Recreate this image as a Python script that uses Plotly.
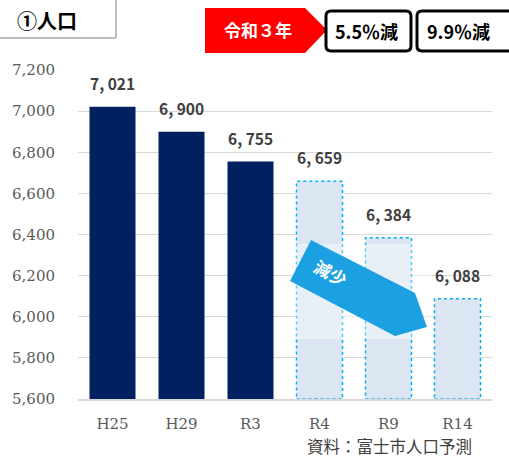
import plotly.graph_objects as go

categories = ["H25", "H29", "R3", "R4", "R9", "R14"]
population = [7021, 6900, 6755, 6659, 6384, 6088]
is_forecast = [False, False, False, True, True, True]
y_ticks = [5600, 5800, 6000, 6200, 6400, 6600, 6800, 7000, 7200]
y_range = [5600, 7200]
title_text = "①人口"
badge_text = "令和３年"
change_texts = ["5.5％減", "9.9％減"]
arrow_text = "減少"
source_text = "資料：富士市人口予測"

W, H = 509, 459
L, R, T, B = 78, 17, 70, 60
PW, PH = W - L - R, H - T - B


def px(x):
    return (x - L) / PW


def py(y):
    return (H - B - y) / PH


def poly_path(points):
    s = "M " + " L ".join(f"{px(x):.4f},{py(y):.4f}" for x, y in points) + " Z"
    return s


def rounded_rect(x0, y0, x1, y1, r):
    pts = [
        ("M", (x0 + r, y0)), ("L", (x1 - r, y0)), ("Q", (x1, y0), (x1, y0 + r)),
        ("L", (x1, y1 - r)), ("Q", (x1, y1), (x1 - r, y1)),
        ("L", (x0 + r, y1)), ("Q", (x0, y1), (x0, y1 - r)),
        ("L", (x0, y0 + r)), ("Q", (x0, y0), (x0 + r, y0)),
    ]
    out = []
    for item in pts:
        cmd = item[0]
        coords = " ".join(f"{px(x):.4f},{py(y):.4f}" for x, y in item[1:])
        out.append(f"{cmd} {coords}")
    return " ".join(out) + " Z"


navy = "#002060"
light = "#dce6f2"
cyan = "#00b0f0"

colors = [light if f else navy for f in is_forecast]

fig = go.Figure()
fig.add_trace(go.Bar(
    x=categories, y=population,
    marker=dict(color=colors, line=dict(width=0)),
    hoverinfo="x+y", showlegend=False,
))

shapes = []
half = (1 - 0.333) / 2
for i, (v, f) in enumerate(zip(population, is_forecast)):
    if f:
        shapes.append(dict(type="rect", xref="x", yref="y", x0=i - half, x1=i + half,
                           y0=y_range[0], y1=v, line=dict(color=cyan, width=1.5, dash="dot"),
                           layer="above"))

# glow behind arrow
shapes.append(dict(type="rect", xref="paper", yref="paper", x0=px(292), x1=px(432),
                   y0=py(339), y1=py(244), fillcolor="rgba(255,255,255,0.35)",
                   line=dict(width=0), layer="above"))
# arrow
shapes.append(dict(type="path", xref="paper", yref="paper",
                   path=poly_path([(311, 240), (415, 293), (427, 327), (395, 336), (290, 281)]),
                   fillcolor="#1ba1e2", line=dict(width=0), layer="above"))
# title box
shapes.append(dict(type="rect", xref="paper", yref="paper", x0=px(-2), x1=px(116),
                   y0=py(38), y1=py(-2), line=dict(color="#7f7f7f", width=1),
                   fillcolor="white", layer="above"))
# red badge
shapes.append(dict(type="path", xref="paper", yref="paper",
                   path=poly_path([(205, 8), (305, 8), (327, 30), (305, 53), (205, 53)]),
                   fillcolor="#ff0000", line=dict(width=0), layer="above"))
# change boxes
shapes.append(dict(type="path", xref="paper", yref="paper",
                   path=rounded_rect(326, 11, 411, 51, 5),
                   fillcolor="white", line=dict(color="black", width=3), layer="above"))
shapes.append(dict(type="path", xref="paper", yref="paper",
                   path=rounded_rect(417, 11, 520, 51, 5),
                   fillcolor="white", line=dict(color="black", width=3), layer="above"))

annotations = []
for c, v in zip(categories, population):
    annotations.append(dict(x=c, y=v, xref="x", yref="y", yanchor="bottom", xanchor="center",
                            yshift=11,
                            text=f"{v // 1000}, {v % 1000:03d}", showarrow=False,
                            font=dict(family="Noto Sans CJK JP",
                                      size=15.5, color="#404040", weight="bold")))


def label(x, y, text, size, color, weight="bold", angle=0):
    return dict(x=px(x), y=py(y), xref="paper", yref="paper", text=text, showarrow=False,
                xanchor="center", yanchor="middle", textangle=angle,
                font=dict(family="Noto Sans CJK JP", size=size, color=color, weight=weight))


annotations += [
    label(47, 20, title_text, 20, "black"),
    label(258, 30, badge_text, 17, "white"),
    label(366, 31, change_texts[0], 18, "black"),
    label(458, 31, change_texts[1], 18, "black"),
    label(331, 272, arrow_text, 17, "white", angle=28),
    label(389, 446, source_text, 16.5, "#404040", weight="normal"),
]

tick_font = dict(family="DejaVu Serif", size=15, color="#595959")

fig.update_layout(
    width=W, height=H,
    margin=dict(l=L, r=R, t=T, b=B, pad=0),
    paper_bgcolor="white", plot_bgcolor="white",
    bargap=0.333,
    shapes=shapes, annotations=annotations,
    xaxis=dict(showgrid=False, showline=True, linecolor="#d9d9d9", linewidth=2,
               ticks="", ticklabelstandoff=10, tickfont=tick_font),
    yaxis=dict(range=y_range, tickvals=y_ticks, tickformat=",d", showgrid=True,
               gridcolor="#d9d9d9", gridwidth=1, zeroline=False, showline=False,
               ticks="", ticklabelstandoff=22, tickfont=tick_font),
)

fig.write_html("out.html")
